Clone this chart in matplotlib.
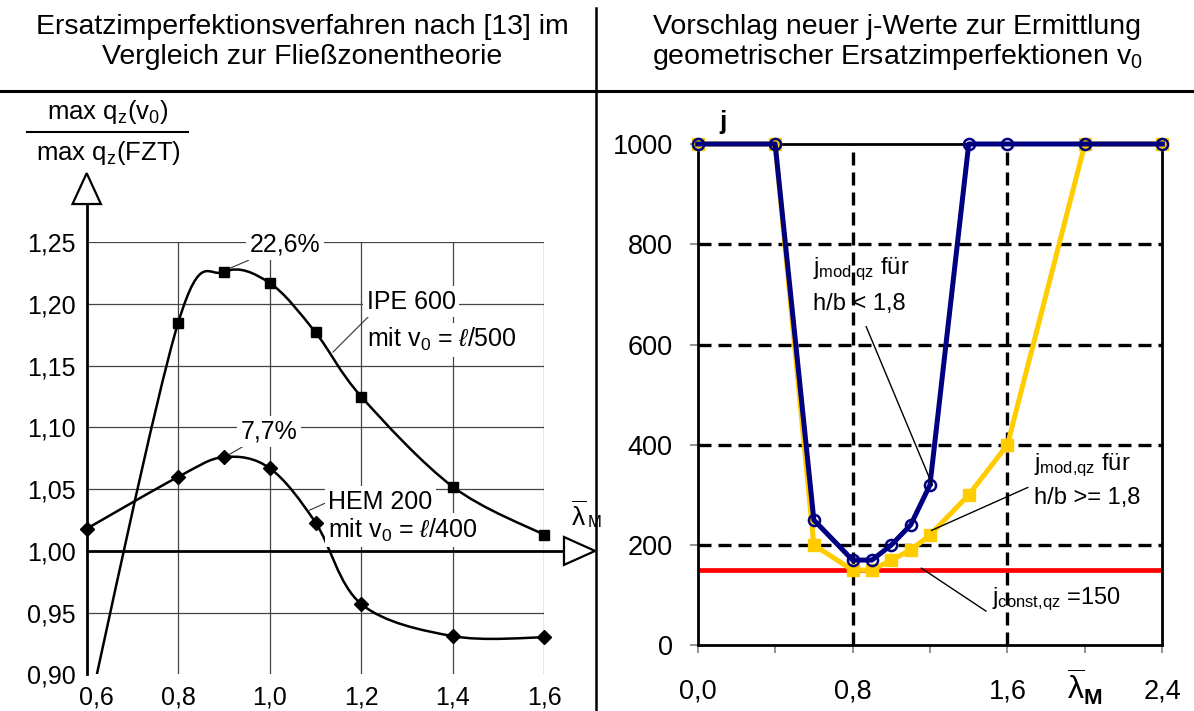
import matplotlib
matplotlib.use("Agg")
import matplotlib.pyplot as plt
from matplotlib.path import Path
from matplotlib.patches import PathPatch, Polygon
from matplotlib.lines import Line2D
from matplotlib.transforms import ScaledTranslation
import numpy as np

plt.rcParams["font.family"] = ["Liberation Sans", "DejaVu Sans"]
plt.rcParams["mathtext.fontset"] = "custom"
plt.rcParams["mathtext.rm"] = "Liberation Sans"
plt.rcParams["mathtext.it"] = "Liberation Sans:italic"
plt.rcParams["mathtext.bf"] = "Liberation Sans:bold"

# left panel: ratio max qz(v0) / max qz(FZT) over lambda_M
lam_ipe = [0.6, 0.8, 0.9, 1.0, 1.1, 1.2, 1.4, 1.6]
ratio_ipe = [0.863, 1.185, 1.226, 1.217, 1.177, 1.125, 1.052, 1.013]
lam_hem = [0.6, 0.8, 0.9, 1.0, 1.1, 1.2, 1.4, 1.6]
ratio_hem = [1.018, 1.060, 1.076, 1.067, 1.023, 0.957, 0.931, 0.930]
left_xticks = [0.6, 0.8, 1.0, 1.2, 1.4, 1.6]
left_yticks = [0.90, 0.95, 1.00, 1.05, 1.10, 1.15, 1.20, 1.25]

# right panel: proposed j values
lam_j = [0.0, 0.4, 0.6, 0.8, 0.9, 1.0, 1.1, 1.2, 1.4, 1.6, 2.0, 2.4]
j_mod_lt = [1000, 1000, 250, 170, 170, 200, 240, 320, 1000, 1000, 1000, 1000]
j_mod_ge = [1000, 1000, 200, 150, 150, 170, 190, 220, 300, 400, 1000, 1000]
j_const = 150
right_xticks = [0.0, 0.4, 0.8, 1.2, 1.6, 2.0, 2.4]
right_xlabels = ["0,0", "", "0,8", "", "1,6",
                 r"$\overline{\mathregular{\lambda}}_\mathbf{M}$", "2,4"]
right_yticks = [0, 200, 400, 600, 800, 1000]

W, H = 1194, 711


def px_box(x0, y0, x1, y1):
    # pixel box (top-left origin) -> figure fraction rect
    return [x0 / W, 1 - y1 / H, (x1 - x0) / W, (y1 - y0) / H]


def smooth_path(xs, ys):
    # Catmull-Rom curve through the points, handed to matplotlib as cubic Beziers
    p = np.column_stack([xs, ys]).astype(float)
    ext = np.vstack([p[0], p, p[-1]])
    verts = [p[0]]
    codes = [Path.MOVETO]
    for i in range(1, len(ext) - 2):
        c1 = ext[i] + (ext[i + 1] - ext[i - 1]) / 6.0
        c2 = ext[i + 1] - (ext[i + 2] - ext[i]) / 6.0
        verts += [c1, c2, ext[i + 1]]
        codes += [Path.CURVE4] * 3
    return Path(verts, codes)


fig = plt.figure(figsize=(W / 100, H / 100), dpi=100)

# ---------------- left panel ----------------
ax = fig.add_axes(px_box(86.7, 242.3, 544.3, 674.4))
ax.set_xlim(0.6, 1.6)
ax.set_ylim(0.90, 1.25)
for s in ax.spines.values():
    s.set_visible(False)
ax.set_xticks(left_xticks)
ax.set_xticklabels([f"{v:.1f}".replace(".", ",") for v in left_xticks])
ax.set_yticks(left_yticks)
ax.set_yticklabels([f"{v:.2f}".replace(".", ",") for v in left_yticks])
ax.tick_params(length=0, labelsize=18, pad=8)
ax.get_xticklabels()[0].set_transform(
    ax.get_xticklabels()[0].get_transform() + ScaledTranslation(0.1, 0, fig.dpi_scale_trans))

for xv in left_xticks[1:]:
    ax.plot([xv, xv], [0.90, 1.25], color="#444444", lw=0.9, zorder=1)
for yv in left_yticks[1:]:
    if abs(yv - 1.0) > 1e-9:
        ax.plot([0.6, 1.6], [yv, yv], color="#444444", lw=0.9, zorder=1)

# axes with open arrow heads
ax.plot([0.6, 0.6], [0.90, 1.281], color="black", lw=2.0, clip_on=False, zorder=3)
ax.plot([0.6, 1.643], [1.0, 1.0], color="black", lw=2.0, clip_on=False, zorder=3)
ax.add_patch(Polygon([[0.6 - 0.031, 1.281], [0.6 + 0.031, 1.281], [0.6, 1.306]],
                     closed=True, facecolor="white", edgecolor="black", lw=1.6,
                     clip_on=False, zorder=4))
ax.add_patch(Polygon([[1.643, 1.0 - 0.0113], [1.643, 1.0 + 0.0113], [1.711, 1.0]],
                     closed=True, facecolor="white", edgecolor="black", lw=1.6,
                     clip_on=False, zorder=4))
ax.text(1.674, 1.028, r"$\overline{\mathregular{\lambda}}$", fontsize=19, ha="center",
        va="center", clip_on=False)
ax.text(1.695, 1.023, "M", fontsize=12, ha="left", va="center", clip_on=False)

ax.add_patch(PathPatch(smooth_path(lam_ipe, ratio_ipe), facecolor="none",
                       edgecolor="black", lw=1.8, zorder=5))
ax.add_patch(PathPatch(smooth_path(lam_hem, ratio_hem), facecolor="none",
                       edgecolor="black", lw=1.8, zorder=5))
ax.plot(lam_ipe[1:], ratio_ipe[1:], ls="none", marker="s", ms=7.5, color="black",
        zorder=6, clip_on=False)
ax.plot(lam_hem, ratio_hem, ls="none", marker="D", ms=7, color="black",
        zorder=6, clip_on=False)

box = dict(facecolor="white", edgecolor="none", pad=2.5)
lead = dict(arrowstyle="-", color="#333333", lw=0.8, shrinkA=0, shrinkB=0)
ax.annotate("22,6%", xy=(0.913, 1.229), xytext=(1.033, 1.248), fontsize=18,
            ha="center", va="center", bbox=box, arrowprops=lead, zorder=7)
ax.annotate("7,7%", xy=(0.911, 1.078), xytext=(0.999, 1.097), fontsize=18,
            ha="center", va="center", bbox=box, arrowprops=lead, zorder=7)
ax.annotate("", xy=(1.138, 1.161), xytext=(1.219, 1.191), arrowprops=lead, zorder=7)
ax.text(1.212, 1.202, "IPE 600", fontsize=18, ha="left", va="center", bbox=box, zorder=7)
ax.text(1.212, 1.171, r"mit v$_0$ = $\ell$/500", fontsize=18, ha="left", va="center",
        bbox=box, zorder=7)
ax.annotate("", xy=(1.087, 1.033), xytext=(1.123, 1.039), arrowprops=lead, zorder=7)
ax.text(1.128, 1.040, "HEM 200", fontsize=18, ha="left", va="center", bbox=box, zorder=7)
ax.text(1.128, 1.017, r"mit v$_0$ = $\ell$/400", fontsize=18, ha="left", va="center",
        bbox=box, zorder=7)

# y label as a fraction
fig.text(108 / W, 1 - 112 / H, r"max q$_\mathregular{z}$(v$_0$)", fontsize=18.5,
         ha="center", va="center")
fig.text(108 / W, 1 - 153 / H, r"max q$_\mathregular{z}$(FZT)", fontsize=18.5,
         ha="center", va="center")
fig.add_artist(Line2D([27 / W, 188 / W], [1 - 132 / H, 1 - 132 / H], color="black", lw=1.5))

# ---------------- right panel ----------------
bx = fig.add_axes(px_box(697.7, 144, 1162.3, 645.3))
bx.set_xlim(0, 2.4)
bx.set_ylim(0, 1000)
for s in bx.spines.values():
    s.set_linewidth(2.0)
    s.set_color("black")
bx.set_xticks(right_xticks)
bx.set_xticklabels(right_xlabels)
bx.set_yticks(right_yticks)
bx.set_yticklabels([str(v) for v in right_yticks])
bx.tick_params(axis="both", direction="out", length=6, width=1.2, color="#808080",
               labelsize=19.5)
bx.tick_params(axis="y", pad=12)
bx.tick_params(axis="x", pad=18)
lam_lbl = bx.get_xticklabels()[5]
lam_lbl.set_fontsize(23)
lam_lbl.set_transform(lam_lbl.get_transform() + ScaledTranslation(0, 0.12, fig.dpi_scale_trans))

dash = (0, (3.9, 2.1))
for yv in right_yticks[1:-1]:
    bx.plot([0, 2.4], [yv, yv], color="black", lw=2.4, ls=dash, zorder=1)
for xv in [0.8, 1.6]:
    bx.plot([xv, xv], [0, 1000], color="black", lw=2.4, ls=dash, zorder=1)

bx.plot([0, 2.4], [j_const, j_const], color="#ff0000", lw=3.4, zorder=2,
        solid_capstyle="butt")
bx.plot(lam_j, j_mod_ge, color="#ffcc00", lw=3.6, marker="s", ms=9,
        markeredgecolor="#ffcc00", zorder=3, clip_on=False)
bx.plot(lam_j, j_mod_lt, color="#000080", lw=3.6, marker="o", ms=8,
        markerfacecolor="none", markeredgecolor="#000080", markeredgewidth=1.8,
        zorder=4, clip_on=False)

bx.text(0.13, 1044, "j", fontsize=19, fontweight="bold", ha="center", va="center")

thin = dict(arrowstyle="-", color="black", lw=1.0, shrinkA=0, shrinkB=0)
bx.annotate("", xy=(1.213, 319), xytext=(0.87, 636), arrowprops=thin, zorder=6)
bx.text(0.595, 750, r"j$_\mathregular{mod{,}qz}$ für", fontsize=17, ha="left", va="center")
bx.text(0.595, 680, "h/b < 1,8", fontsize=17, ha="left", va="center")
bx.annotate("", xy=(1.207, 229), xytext=(1.706, 315), arrowprops=thin, zorder=6)
bx.text(1.735, 360, r"j$_\mathregular{mod{,}qz}$ für", fontsize=17, ha="left", va="center")
bx.text(1.735, 293, "h/b >= 1,8", fontsize=17, ha="left", va="center")
bx.annotate("", xy=(1.155, 154), xytext=(1.49, 68), arrowprops=thin, zorder=6)
bx.text(1.52, 91, r"j$_\mathregular{const{,}qz}$ =150", fontsize=17, ha="left", va="center")

# ---------------- titles and frame lines ----------------
fig.text(302 / W, 1 - 34 / H, "Ersatzimperfektionsverfahren nach [13] im", fontsize=20.5,
         ha="center", va="baseline")
fig.text(302 / W, 1 - 64 / H, "Vergleich zur Fließzonentheorie", fontsize=20.5,
         ha="center", va="baseline")
fig.text(897 / W, 1 - 34 / H, "Vorschlag neuer j-Werte zur Ermittlung", fontsize=20.5,
         ha="center", va="baseline")
fig.text(897 / W, 1 - 64 / H, r"geometrischer Ersatzimperfektionen v$_0$", fontsize=20.5,
         ha="center", va="baseline")
fig.add_artist(Line2D([0, 1], [1 - 91 / H, 1 - 91 / H], color="black", lw=2.2))
fig.add_artist(Line2D([596 / W, 596 / W], [0, 1 - 8 / H], color="black", lw=1.8))

fig.savefig("out.png", dpi=100)
